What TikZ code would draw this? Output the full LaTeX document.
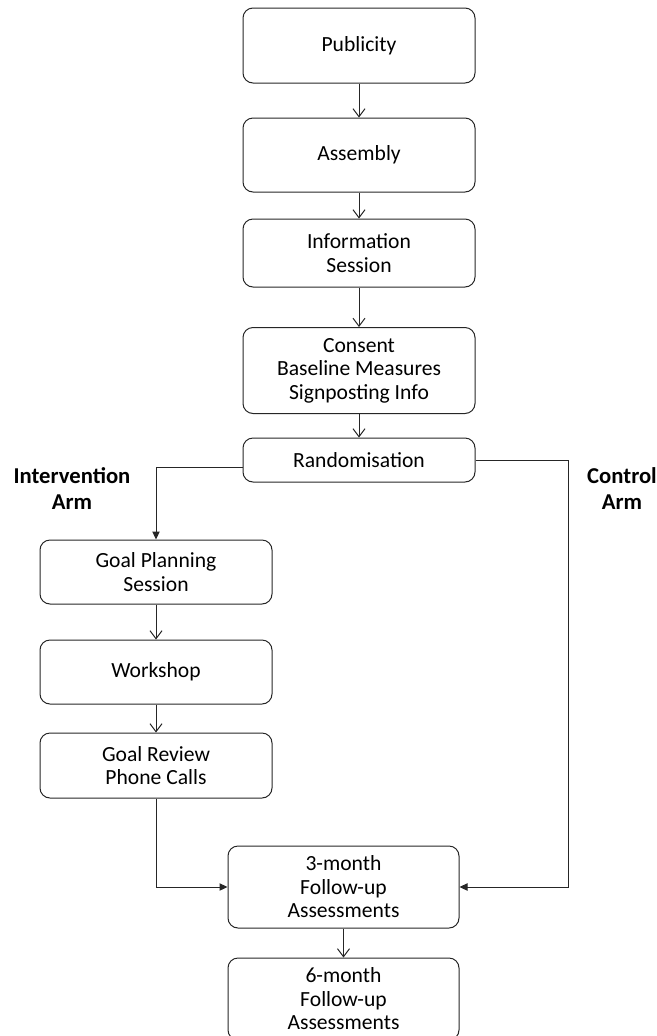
\documentclass[tikz,border=0pt]{standalone}
\usepackage{fontspec}
\setmainfont{Carlito}
\usetikzlibrary{arrows.meta}

\begin{document}
\begin{tikzpicture}[x=0.75pt, y=-0.75pt,
        box/.style={draw=black!85, line width=0.75pt, rounded corners=7.5pt,
            minimum width=174pt, align=center, inner sep=0pt,
            font=\fontsize{16.2pt}{17.6pt}\selectfont},
        armlabel/.style={align=center, font=\fontsize{17pt}{20pt}\selectfont\bfseries},
        flow/.style={draw=black!85, line width=0.75pt, -{Straight Barb[length=6pt,width=9pt]}},
        branch/.style={draw=black!85, line width=0.75pt, -{Triangle[length=6pt,width=5.5pt]}}]
        \useasboundingbox (0,0) rectangle (657,1036);

        % main column
        \node[box, minimum height=56.25pt] (pub) at (359,45.5) {Publicity};
        \node[box, minimum height=55.5pt] (asm) at (359,155) {Assembly};
        \node[box, minimum height=51pt] (info) at (359,253) {Information\\Session};
        \node[box, minimum height=64.5pt] (cons) at (359,370.5) {Consent\\Baseline Measures\\Signposting Info};
        \node[box, minimum height=33pt] (rand) at (359,460) {Randomisation};

        % intervention arm
        \node[box, minimum height=48pt] (gps) at (156,572) {Goal Planning\\Session};
        \node[box, minimum height=48pt] (work) at (156,672) {Workshop};
        \node[box, minimum height=48.75pt] (grpc) at (156,765.5) {Goal Review\\Phone Calls};

        % follow-up
        \node[box, minimum width=173.25pt, minimum height=61.5pt] (three) at (343.5,887) {3-month\\Follow-up\\Assessments};
        \node[box, minimum width=173.25pt, minimum height=61.5pt] (six) at (343.5,999) {6-month\\Follow-up\\Assessments};

        \node[armlabel] (intarm) at (72,488.5) {Intervention\\Arm};
        \node[armlabel] (ctrlarm) at (622,488.5) {Control\\Arm};

        \draw[flow] (pub) -- (asm);
        \draw[flow] (asm) -- (info);
        \draw[flow] (info) -- (cons);
        \draw[flow] (cons) -- (rand);
        \draw[flow] (gps) -- (work);
        \draw[flow] (work) -- (grpc);
        \draw[flow] (three) -- (six);

        \draw[branch] ([yshift=-5.25pt]rand.west) -| (gps.north);
        \draw[branch] (rand.east) -- ++(93,0) |- (three.east);
        \draw[branch] (grpc.south) |- (three.west);
    \end{tikzpicture}
\end{document}
